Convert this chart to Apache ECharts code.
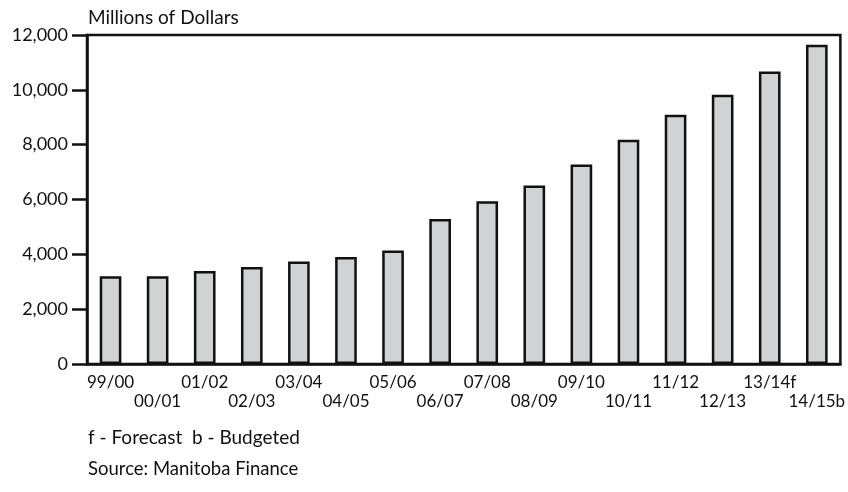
<!DOCTYPE html>
<html>
<head>
<meta charset="utf-8">
<script src="https://cdn.jsdelivr.net/npm/echarts@6/dist/echarts.min.js"></script>
<style>
  html, body { margin: 0; padding: 0; background: #fff; }
  #chart { width: 848px; height: 492px; }
</style>
</head>
<body>
<div id="chart"></div>
<script>
// fiscal years, 13/14 forecast, 14/15 budgeted
const years = ['99/00', '00/01', '01/02', '02/03', '03/04', '04/05', '05/06', '06/07',
  '07/08', '08/09', '09/10', '10/11', '11/12', '12/13', '13/14f', '14/15b'];
// millions of dollars
const amounts = [3200, 3200, 3390, 3540, 3740, 3900, 4140, 5290,
  5940, 6510, 7280, 8180, 9090, 9820, 10670, 11640];
const yTicks = { min: 0, max: 12000, interval: 2000 };

const font = 'Lato, "Open Sans", sans-serif';
const ink = '#111';

const chart = echarts.init(document.getElementById('chart'));

const option = {
  animation: false,
  textStyle: { fontFamily: font, color: ink },
  grid: {
    left: 87, right: 3, top: 35, bottom: 128,
    show: true, borderColor: ink, borderWidth: 2.5, backgroundColor: 'transparent',
  },
  xAxis: {
    type: 'category',
    data: years,
    axisLine: { lineStyle: { color: ink, width: 2.5 } },
    axisTick: { show: false },
    axisLabel: {
      interval: 0,
      margin: 9,
      fontSize: 17,
      lineHeight: 19,
      color: ink,
      fontFamily: font,
      formatter: (v, i) => (i % 2 ? '\n' + v : v),
    },
  },
  yAxis: {
    type: 'value',
    min: yTicks.min,
    max: yTicks.max,
    interval: yTicks.interval,
    splitLine: { show: false },
    axisLine: { show: true, lineStyle: { color: ink, width: 2.5 } },
    axisTick: { show: true, length: 15, lineStyle: { color: ink, width: 2.5 } },
    axisLabel: {
      margin: 19,
      fontSize: 18,
      color: ink,
      fontFamily: font,
      formatter: (v) => v.toLocaleString('en-US'),
    },
  },
  series: [
    {
      type: 'bar',
      data: amounts,
      barWidth: '46%',
      itemStyle: { color: '#d1d2d4', borderColor: ink, borderWidth: 2.5 },
    },
  ],
  graphic: [
    { type: 'text', left: 88, top: 8, style: { text: 'Millions of Dollars', font: '19px ' + font, fill: ink } },
    { type: 'text', left: 88, top: 428, style: { text: 'f - Forecast  b - Budgeted', font: '19px ' + font, fill: ink } },
    { type: 'text', left: 88, top: 460, style: { text: 'Source: Manitoba Finance', font: '18.5px ' + font, fill: ink } },
  ],
};

chart.setOption(option);
</script>
</body>
</html>
